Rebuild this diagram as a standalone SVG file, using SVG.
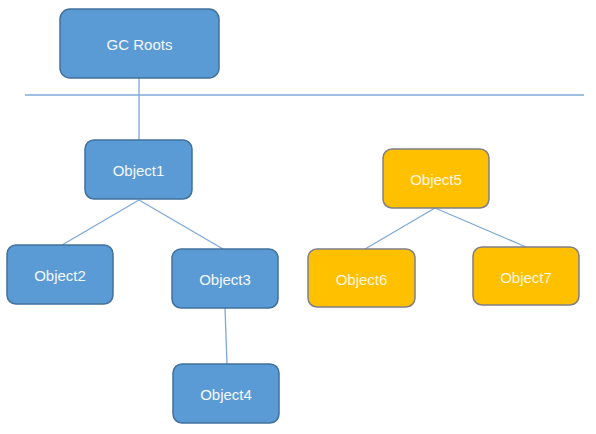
<svg xmlns="http://www.w3.org/2000/svg" width="596" height="434" viewBox="0 0 596 434">
<style>
.blue rect{fill:#5B9BD5;stroke:#41719C;stroke-width:1.5}
.orange rect{fill:#FFC000;stroke:#7F7F86;stroke-width:1.5}
text{font-family:"Liberation Sans",Arial,sans-serif;font-size:15px;fill:#F4F8FC;text-anchor:middle;dominant-baseline:central}
.orange text{fill:#FFF6E0}
#connectors line{stroke:#7FA8D8;stroke-width:1.3}
</style>
<rect width="596" height="434" fill="#FFFFFF"/>
<g id="connectors">
<line x1="25" y1="95" x2="584" y2="95"/>
<line x1="139" y1="78" x2="139" y2="140"/>
<line x1="139" y1="200" x2="62" y2="245"/>
<line x1="139" y1="200" x2="223" y2="249"/>
<line x1="225" y1="308" x2="227" y2="364"/>
<line x1="435" y1="208" x2="365" y2="249"/>
<line x1="435" y1="208" x2="526" y2="247"/>
</g>
<g id="gcroots" class="blue"><rect x="60" y="9" width="159" height="69" rx="10"/><text x="139.5" y="44">GC Roots</text></g>
<g id="object1" class="blue"><rect x="85" y="140" width="107" height="59" rx="9"/><text x="138.5" y="170">Object1</text></g>
<g id="object2" class="blue"><rect x="7" y="245" width="106" height="59" rx="9"/><text x="60" y="275">Object2</text></g>
<g id="object3" class="blue"><rect x="172" y="249" width="106" height="59" rx="9"/><text x="225" y="279">Object3</text></g>
<g id="object4" class="blue"><rect x="173" y="364" width="106" height="59" rx="9"/><text x="226" y="394">Object4</text></g>
<g id="object5" class="orange"><rect x="383" y="149" width="106" height="59" rx="9"/><text x="436" y="179">Object5</text></g>
<g id="object6" class="orange"><rect x="308" y="249" width="107" height="58" rx="9"/><text x="361.5" y="279">Object6</text></g>
<g id="object7" class="orange"><rect x="473" y="247" width="106" height="58" rx="9"/><text x="526" y="277">Object7</text></g>
</svg>
